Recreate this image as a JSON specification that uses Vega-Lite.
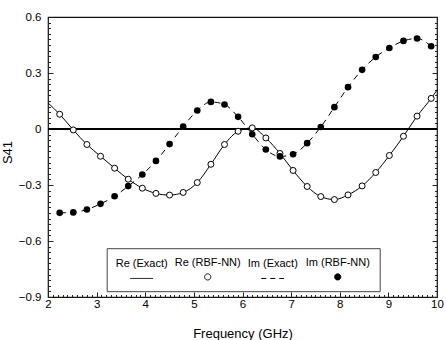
{
  "$schema": "https://vega.github.io/schema/vega-lite/v6.json",
  "autosize": "none",
  "width": 389,
  "height": 280,
  "padding": {"left": 48, "top": 17, "right": 9, "bottom": 43},
  "background": "white",
  "config": {
    "font": "Liberation Sans",
    "view": {"stroke": "#111", "strokeWidth": 1.2},
    "axis": {
      "domain": false,
      "grid": false,
      "tickColor": "#222",
      "tickWidth": 1,
      "labelColor": "black",
      "labelFontSize": 11.5,
      "titleColor": "black",
      "titleFontSize": 13,
      "titleFontWeight": "normal"
    }
  },
  "data": {
    "values": [
      {"f": 2.0, "v": 0.14, "series": "Re (Exact)"},
      {"f": 2.24, "v": 0.079, "series": "Re (Exact)"},
      {"f": 2.52, "v": -0.005, "series": "Re (Exact)"},
      {"f": 2.8, "v": -0.083, "series": "Re (Exact)"},
      {"f": 3.08, "v": -0.146, "series": "Re (Exact)"},
      {"f": 3.37, "v": -0.21, "series": "Re (Exact)"},
      {"f": 3.65, "v": -0.269, "series": "Re (Exact)"},
      {"f": 3.94, "v": -0.317, "series": "Re (Exact)"},
      {"f": 4.22, "v": -0.345, "series": "Re (Exact)"},
      {"f": 4.5, "v": -0.354, "series": "Re (Exact)"},
      {"f": 4.78, "v": -0.34, "series": "Re (Exact)"},
      {"f": 5.07, "v": -0.287, "series": "Re (Exact)"},
      {"f": 5.35, "v": -0.189, "series": "Re (Exact)"},
      {"f": 5.63, "v": -0.083, "series": "Re (Exact)"},
      {"f": 5.91, "v": -0.012, "series": "Re (Exact)"},
      {"f": 6.2, "v": 0.006, "series": "Re (Exact)"},
      {"f": 6.48, "v": -0.048, "series": "Re (Exact)"},
      {"f": 6.77, "v": -0.131, "series": "Re (Exact)"},
      {"f": 7.04, "v": -0.222, "series": "Re (Exact)"},
      {"f": 7.33, "v": -0.308, "series": "Re (Exact)"},
      {"f": 7.61, "v": -0.362, "series": "Re (Exact)"},
      {"f": 7.89, "v": -0.378, "series": "Re (Exact)"},
      {"f": 8.17, "v": -0.353, "series": "Re (Exact)"},
      {"f": 8.46, "v": -0.305, "series": "Re (Exact)"},
      {"f": 8.74, "v": -0.233, "series": "Re (Exact)"},
      {"f": 9.02, "v": -0.142, "series": "Re (Exact)"},
      {"f": 9.31, "v": -0.039, "series": "Re (Exact)"},
      {"f": 9.59, "v": 0.069, "series": "Re (Exact)"},
      {"f": 9.88, "v": 0.164, "series": "Re (Exact)"},
      {"f": 10.0, "v": 0.208, "series": "Re (Exact)"},

      {"f": 2.24, "v": 0.079, "series": "Re (RBF-NN)"},
      {"f": 2.52, "v": -0.005, "series": "Re (RBF-NN)"},
      {"f": 2.8, "v": -0.083, "series": "Re (RBF-NN)"},
      {"f": 3.08, "v": -0.146, "series": "Re (RBF-NN)"},
      {"f": 3.37, "v": -0.21, "series": "Re (RBF-NN)"},
      {"f": 3.65, "v": -0.269, "series": "Re (RBF-NN)"},
      {"f": 3.94, "v": -0.317, "series": "Re (RBF-NN)"},
      {"f": 4.22, "v": -0.345, "series": "Re (RBF-NN)"},
      {"f": 4.5, "v": -0.354, "series": "Re (RBF-NN)"},
      {"f": 4.78, "v": -0.34, "series": "Re (RBF-NN)"},
      {"f": 5.07, "v": -0.287, "series": "Re (RBF-NN)"},
      {"f": 5.35, "v": -0.189, "series": "Re (RBF-NN)"},
      {"f": 5.63, "v": -0.083, "series": "Re (RBF-NN)"},
      {"f": 5.91, "v": -0.012, "series": "Re (RBF-NN)"},
      {"f": 6.2, "v": 0.006, "series": "Re (RBF-NN)"},
      {"f": 6.48, "v": -0.048, "series": "Re (RBF-NN)"},
      {"f": 6.77, "v": -0.131, "series": "Re (RBF-NN)"},
      {"f": 7.04, "v": -0.222, "series": "Re (RBF-NN)"},
      {"f": 7.33, "v": -0.308, "series": "Re (RBF-NN)"},
      {"f": 7.61, "v": -0.362, "series": "Re (RBF-NN)"},
      {"f": 7.89, "v": -0.378, "series": "Re (RBF-NN)"},
      {"f": 8.17, "v": -0.353, "series": "Re (RBF-NN)"},
      {"f": 8.46, "v": -0.305, "series": "Re (RBF-NN)"},
      {"f": 8.74, "v": -0.233, "series": "Re (RBF-NN)"},
      {"f": 9.02, "v": -0.142, "series": "Re (RBF-NN)"},
      {"f": 9.31, "v": -0.039, "series": "Re (RBF-NN)"},
      {"f": 9.59, "v": 0.069, "series": "Re (RBF-NN)"},
      {"f": 9.88, "v": 0.164, "series": "Re (RBF-NN)"},

      {"f": 2.24, "v": -0.449, "series": "Im (Exact)"},
      {"f": 2.52, "v": -0.447, "series": "Im (Exact)"},
      {"f": 2.8, "v": -0.431, "series": "Im (Exact)"},
      {"f": 3.08, "v": -0.401, "series": "Im (Exact)"},
      {"f": 3.37, "v": -0.36, "series": "Im (Exact)"},
      {"f": 3.65, "v": -0.306, "series": "Im (Exact)"},
      {"f": 3.94, "v": -0.244, "series": "Im (Exact)"},
      {"f": 4.22, "v": -0.171, "series": "Im (Exact)"},
      {"f": 4.5, "v": -0.081, "series": "Im (Exact)"},
      {"f": 4.78, "v": 0.013, "series": "Im (Exact)"},
      {"f": 5.07, "v": 0.099, "series": "Im (Exact)"},
      {"f": 5.35, "v": 0.145, "series": "Im (Exact)"},
      {"f": 5.63, "v": 0.131, "series": "Im (Exact)"},
      {"f": 5.91, "v": 0.065, "series": "Im (Exact)"},
      {"f": 6.2, "v": -0.028, "series": "Im (Exact)"},
      {"f": 6.48, "v": -0.11, "series": "Im (Exact)"},
      {"f": 6.77, "v": -0.147, "series": "Im (Exact)"},
      {"f": 7.04, "v": -0.135, "series": "Im (Exact)"},
      {"f": 7.33, "v": -0.076, "series": "Im (Exact)"},
      {"f": 7.61, "v": 0.011, "series": "Im (Exact)"},
      {"f": 7.89, "v": 0.117, "series": "Im (Exact)"},
      {"f": 8.17, "v": 0.224, "series": "Im (Exact)"},
      {"f": 8.46, "v": 0.317, "series": "Im (Exact)"},
      {"f": 8.74, "v": 0.386, "series": "Im (Exact)"},
      {"f": 9.02, "v": 0.434, "series": "Im (Exact)"},
      {"f": 9.31, "v": 0.472, "series": "Im (Exact)"},
      {"f": 9.59, "v": 0.485, "series": "Im (Exact)"},
      {"f": 9.88, "v": 0.443, "series": "Im (Exact)"},

      {"f": 2.24, "v": -0.449, "series": "Im (RBF-NN)"},
      {"f": 2.52, "v": -0.447, "series": "Im (RBF-NN)"},
      {"f": 2.8, "v": -0.431, "series": "Im (RBF-NN)"},
      {"f": 3.08, "v": -0.401, "series": "Im (RBF-NN)"},
      {"f": 3.37, "v": -0.36, "series": "Im (RBF-NN)"},
      {"f": 3.65, "v": -0.306, "series": "Im (RBF-NN)"},
      {"f": 3.94, "v": -0.244, "series": "Im (RBF-NN)"},
      {"f": 4.22, "v": -0.171, "series": "Im (RBF-NN)"},
      {"f": 4.5, "v": -0.081, "series": "Im (RBF-NN)"},
      {"f": 4.78, "v": 0.013, "series": "Im (RBF-NN)"},
      {"f": 5.07, "v": 0.099, "series": "Im (RBF-NN)"},
      {"f": 5.35, "v": 0.145, "series": "Im (RBF-NN)"},
      {"f": 5.63, "v": 0.131, "series": "Im (RBF-NN)"},
      {"f": 5.91, "v": 0.065, "series": "Im (RBF-NN)"},
      {"f": 6.2, "v": -0.028, "series": "Im (RBF-NN)"},
      {"f": 6.48, "v": -0.11, "series": "Im (RBF-NN)"},
      {"f": 6.77, "v": -0.147, "series": "Im (RBF-NN)"},
      {"f": 7.04, "v": -0.135, "series": "Im (RBF-NN)"},
      {"f": 7.33, "v": -0.076, "series": "Im (RBF-NN)"},
      {"f": 7.61, "v": 0.011, "series": "Im (RBF-NN)"},
      {"f": 7.89, "v": 0.117, "series": "Im (RBF-NN)"},
      {"f": 8.17, "v": 0.224, "series": "Im (RBF-NN)"},
      {"f": 8.46, "v": 0.317, "series": "Im (RBF-NN)"},
      {"f": 8.74, "v": 0.386, "series": "Im (RBF-NN)"},
      {"f": 9.02, "v": 0.434, "series": "Im (RBF-NN)"},
      {"f": 9.31, "v": 0.472, "series": "Im (RBF-NN)"},
      {"f": 9.59, "v": 0.485, "series": "Im (RBF-NN)"},
      {"f": 9.88, "v": 0.443, "series": "Im (RBF-NN)"}
    ]
  },
  "resolve": {
    "scale": {"x": "shared", "y": "shared", "color": "shared"},
    "axis": {"x": "independent", "y": "independent"}
  },
  "layer": [
    {
      "mark": {"type": "rule", "color": "black", "strokeWidth": 1},
      "encoding": {
        "y": {"datum": 0, "type": "quantitative", "axis": null}
      }
    },
    {
      "transform": [{"filter": "datum.series == 'Re (Exact)'"}],
      "mark": {"type": "line", "interpolate": "monotone", "strokeWidth": 1},
      "encoding": {
        "x": {
          "field": "f", "type": "quantitative",
          "scale": {"domain": [2, 10], "nice": false, "zero": false},
          "axis": {
            "orient": "bottom", "title": "Frequency (GHz)",
            "values": [2, 3, 4, 5, 6, 7, 8, 9, 10],
            "tickSize": -5, "labelPadding": 6, "labelFlush": false,
            "titleY": 30, "titleBaseline": "top"
          }
        },
        "y": {
          "field": "v", "type": "quantitative",
          "scale": {"domain": [-0.9, 0.6], "nice": false, "zero": false},
          "axis": {
            "orient": "left", "title": "S41",
            "values": [-0.9, -0.6, -0.3, 0, 0.3, 0.6],
            "labelExpr": "datum.value == 0 ? '0' : format(datum.value, '.1f')",
            "tickSize": -5, "labelPadding": 12, "labelFlush": false,
            "titleX": -33.5, "titleY": 135, "titleBaseline": "bottom"
          }
        },
        "color": {
          "field": "series", "type": "nominal",
          "scale": {
            "domain": ["Re (Exact)", "Re (RBF-NN)", "Im (Exact)", "Im (RBF-NN)"],
            "range": ["black", "black", "black", "black"]
          },
          "legend": {
            "title": null,
            "orient": "none",
            "legendX": 58.7,
            "legendY": 231.2,
            "direction": "horizontal",
            "columns": 4,
            "columnPadding": 7,
            "padding": 9,
            "symbolSize": 38,
            "strokeColor": "#444",
            "fillColor": "white",
            "labelFontSize": 11,
            "labelColor": "black",
            "encoding": {
              "labels": {
                "align": {"value": "left"},
                "baseline": {"value": "middle"},
                "x": {"value": 0},
                "y": {"value": 5.5}
              },
              "symbols": {
                "x": {"value": {"expr": "datum.value == 'Re (Exact)' ? 26 : datum.value == 'Re (RBF-NN)' ? 33 : datum.value == 'Im (Exact)' ? 25 : 32"}},
                "y": {"value": 19.5},
                "shape": {"value": {"expr": "indexof(datum.value, 'Exact') >= 0 ? 'M-3.7,0H3.7' : 'circle'"}},
                "fill": {"value": "black"},
                "fillOpacity": {"value": {"expr": "datum.value == 'Im (RBF-NN)' ? 1 : 0"}},
                "strokeDash": {"value": {"expr": "datum.value == 'Im (Exact)' ? [5, 4] : [1, 0]"}},
                "stroke": {"value": "black"},
                "strokeWidth": {"value": 1},
                "opacity": {"value": 1}
              }
            }
          }
        }
      }
    },
    {
      "transform": [{"filter": "datum.series == 'Im (Exact)'"}],
      "mark": {"type": "line", "interpolate": "monotone", "strokeWidth": 1, "strokeDash": [6, 5]},
      "encoding": {
        "x": {
          "field": "f", "type": "quantitative",
          "axis": {"orient": "bottom", "title": null, "labels": false, "tickCount": 80, "tickSize": -2.5}
        },
        "y": {
          "field": "v", "type": "quantitative",
          "axis": {
            "orient": "left", "title": null, "labels": false, "tickSize": -2.5,
            "values": [-0.9, -0.87, -0.84, -0.81, -0.78, -0.75, -0.72, -0.69, -0.66, -0.63, -0.6, -0.57, -0.54, -0.51, -0.48, -0.45, -0.42, -0.39, -0.36, -0.33, -0.3, -0.27, -0.24, -0.21, -0.18, -0.15, -0.12, -0.09, -0.06, -0.03, 0, 0.03, 0.06, 0.09, 0.12, 0.15, 0.18, 0.21, 0.24, 0.27, 0.3, 0.33, 0.36, 0.39, 0.42, 0.45, 0.48, 0.51, 0.54, 0.57, 0.6]
          }
        },
        "color": {"field": "series", "type": "nominal"}
      }
    },
    {
      "transform": [{"filter": "datum.series == 'Re (RBF-NN)'"}],
      "mark": {"type": "point", "shape": "circle", "filled": false, "fill": "white", "size": 36, "strokeWidth": 1, "opacity": 1},
      "encoding": {
        "x": {"field": "f", "type": "quantitative", "axis": null},
        "y": {
          "field": "v", "type": "quantitative",
          "axis": {"orient": "right", "title": null, "labels": false, "tickSize": -5, "values": [-0.9, -0.6, -0.3, 0, 0.3, 0.6]}
        },
        "color": {"field": "series", "type": "nominal"}
      }
    },
    {
      "transform": [{"filter": "datum.series == 'Im (RBF-NN)'"}],
      "mark": {"type": "point", "shape": "circle", "filled": true, "size": 44, "opacity": 1},
      "encoding": {
        "x": {"field": "f", "type": "quantitative", "axis": null},
        "y": {
          "field": "v", "type": "quantitative",
          "axis": {
            "orient": "right", "title": null, "labels": false, "tickSize": -2.5,
            "values": [-0.9, -0.87, -0.84, -0.81, -0.78, -0.75, -0.72, -0.69, -0.66, -0.63, -0.6, -0.57, -0.54, -0.51, -0.48, -0.45, -0.42, -0.39, -0.36, -0.33, -0.3, -0.27, -0.24, -0.21, -0.18, -0.15, -0.12, -0.09, -0.06, -0.03, 0, 0.03, 0.06, 0.09, 0.12, 0.15, 0.18, 0.21, 0.24, 0.27, 0.3, 0.33, 0.36, 0.39, 0.42, 0.45, 0.48, 0.51, 0.54, 0.57, 0.6]
          }
        },
        "color": {"field": "series", "type": "nominal"}
      }
    }
  ]
}
